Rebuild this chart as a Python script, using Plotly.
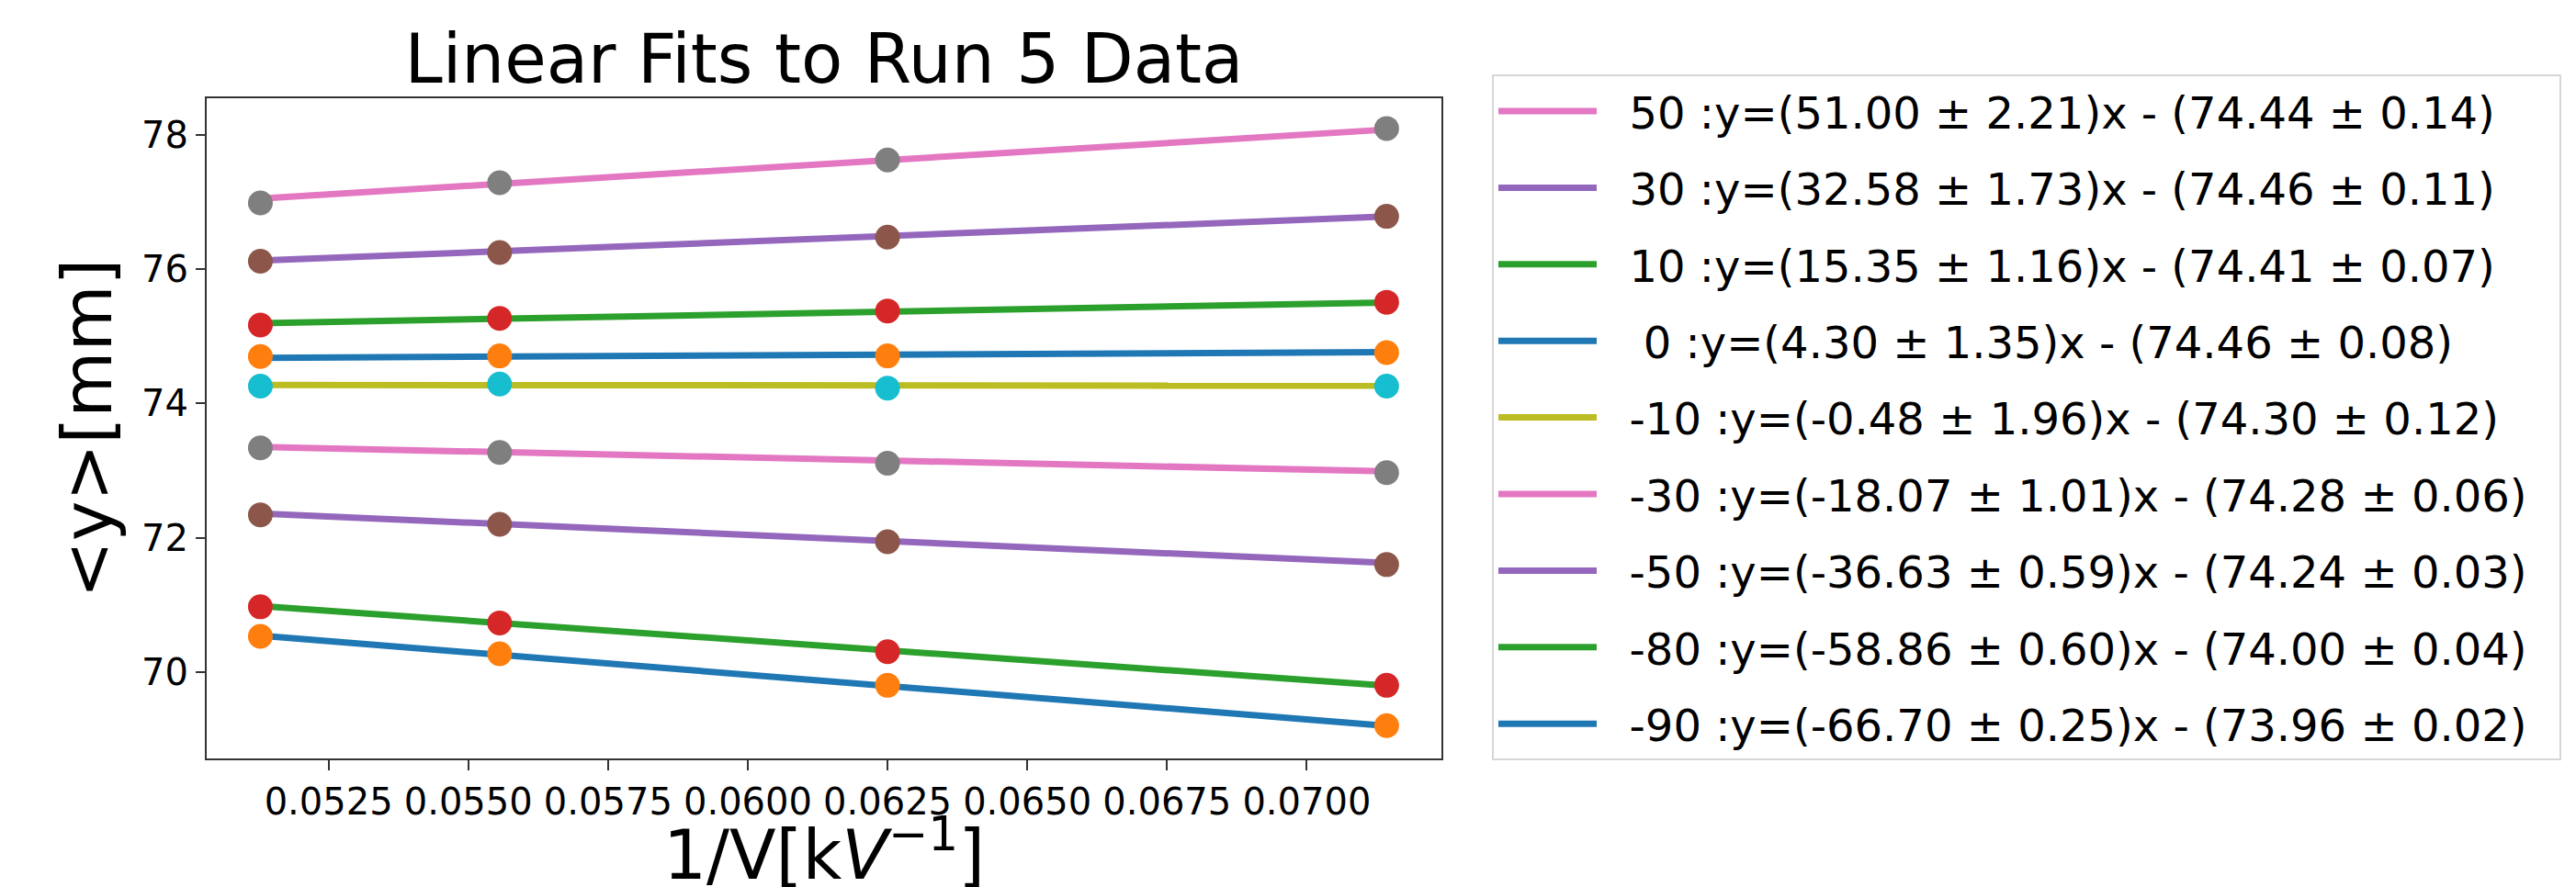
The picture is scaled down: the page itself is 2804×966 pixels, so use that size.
import plotly.graph_objects as go

# ---------------- data ----------------
inv_V = [0.05128, 0.05556, 0.0625, 0.07143]          # 1/V [kV^-1]
angles = [-90, -80, -50, -30, -10, 0, 10, 30, 50]
slopes = [-66.70, -58.86, -36.63, -18.07, -0.48, 4.30, 15.35, 32.58, 51.00]
slope_errs = [0.25, 0.60, 0.59, 1.01, 1.96, 1.35, 1.16, 1.73, 2.21]
intercepts = [73.96, 74.00, 74.24, 74.28, 74.30, 74.46, 74.41, 74.46, 74.44]
intercept_errs = [0.02, 0.04, 0.03, 0.06, 0.12, 0.08, 0.07, 0.11, 0.14]

y_m90 = [70.53, 70.27, 69.80, 69.20]
y_m80 = [70.97, 70.73, 70.30, 69.80]
y_m50 = [72.34, 72.20, 71.94, 71.60]
y_m30 = [73.34, 73.27, 73.11, 72.97]
y_m10 = [74.26, 74.29, 74.23, 74.26]
y_0 = [74.70, 74.71, 74.71, 74.76]
y_10 = [75.17, 75.27, 75.38, 75.51]
y_30 = [76.12, 76.25, 76.48, 76.79]
y_50 = [76.99, 77.29, 77.63, 78.10]
y_series = [y_m90, y_m80, y_m50, y_m30, y_m10, y_0, y_10, y_30, y_50]

y_ticks = [70, 72, 74, 76, 78]
x_ticks = [0.0525, 0.0550, 0.0575, 0.0600, 0.0625, 0.0650, 0.0675, 0.0700]

tab10 = ["#1f77b4", "#ff7f0e", "#2ca02c", "#d62728", "#9467bd",
         "#8c564b", "#e377c2", "#7f7f7f", "#bcbd22", "#17becf"]

FONT = "DejaVu Sans"
NB = "\u00a0"

fig = go.Figure()

line_cols = [tab10[(2 * i) % 10] for i in range(len(angles))]
mark_cols = [tab10[(2 * i + 1) % 10] for i in range(len(angles))]

# fit lines, added from the top legend entry (50) down to -90
for i in reversed(range(len(angles))):
    ang = angles[i]
    x_end = [inv_V[0], inv_V[-1]]
    y_fit = [slopes[i] * xv + intercepts[i] for xv in x_end]
    lab = (NB + "0") if ang == 0 else str(ang)
    label = (NB * 2 + f"{lab} :y=({slopes[i]:.2f} \u00b1 {slope_errs[i]:.2f})x - "
             f"({intercepts[i]:.2f} \u00b1 {intercept_errs[i]:.2f})" + NB * 2)
    fig.add_trace(go.Scatter(
        x=x_end, y=y_fit, mode="lines",
        line=dict(color=line_cols[i], width=7),
        name=label, legendgroup=f"g{i}", showlegend=True))

# data points on top
for i in range(len(angles)):
    fig.add_trace(go.Scatter(
        x=inv_V, y=y_series[i], mode="markers",
        marker=dict(color=mark_cols[i], size=27, line=dict(width=0)),
        showlegend=False))

fig.update_layout(
    width=2804, height=966,
    margin=dict(l=217, r=1243, t=99, b=140),
    paper_bgcolor="white", plot_bgcolor="white",
    font=dict(family=FONT, color="black"),
    title=dict(text="Linear Fits to Run 5 Data", x=0.5, xref="paper",
               xanchor="center", y=1 - 56 / 966, yanchor="middle",
               font=dict(size=74, family=FONT, color="black")),
    legend=dict(x=(1616 - 217) / 1344, xanchor="left",
                y=(826 - 73) / 727, yanchor="top",
                font=dict(size=48, family=FONT, color="black"),
                bgcolor="white", bordercolor="#d6d6d6", borderwidth=2,
                traceorder="grouped", tracegroupgap=18,
                itemwidth=107, maxheight=2000),
    showlegend=True,
)
fig.update_xaxes(
    range=[0.05032, 0.07241], tickvals=x_ticks, tickformat=".4f",
    ticks="outside", ticklen=11, tickwidth=2, tickcolor="#333333",
    showline=True, linecolor="#333333", linewidth=2, mirror=True,
    showgrid=False, zeroline=False,
    tickfont=dict(size=40, family=FONT, color="black"),
    title=dict(text="1/V[k<i>V</i><sup>\u22121</sup>]", standoff=14,
               font=dict(size=74, family=FONT, color="black")),
)
fig.update_yaxes(
    range=[68.71, 78.55], tickvals=y_ticks,
    ticks="outside", ticklen=10, tickwidth=2, tickcolor="#333333",
    showline=True, linecolor="#333333", linewidth=2, mirror=True,
    showgrid=False, zeroline=False,
    tickfont=dict(size=40, family=FONT, color="black"),
    title=dict(text="&lt;y&gt;[mm]", standoff=8,
               font=dict(size=74, family=FONT, color="black")),
)

fig.write_html("out.html")
